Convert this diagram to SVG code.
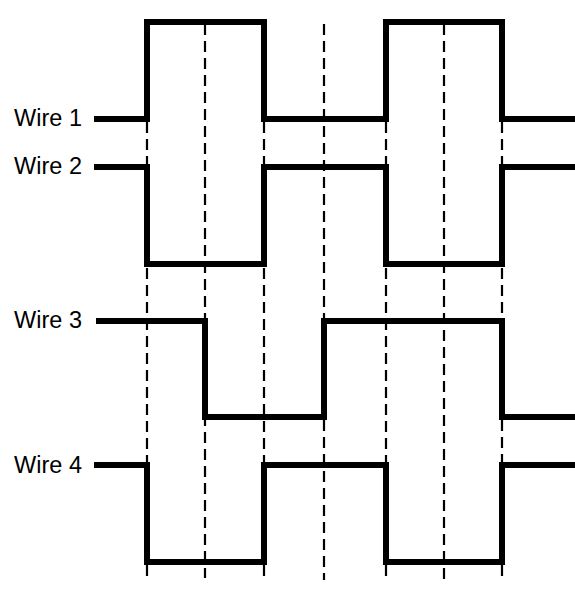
<svg xmlns="http://www.w3.org/2000/svg" width="575" height="597" viewBox="0 0 575 597">
<style>
.lbl{font-family:"Liberation Sans",Arial,sans-serif;font-size:23.5px;fill:#000}
.wire{fill:none;stroke:#000;stroke-width:6;stroke-linejoin:miter}
.dash{fill:none;stroke:#000;stroke-width:2.2;stroke-dasharray:11 6}
</style>
<rect width="575" height="597" fill="#fff"/>
<g id="connectors">
<path class="dash" d="M147 122V166M147 268V462M147 565V578"/>
<path class="dash" d="M205 24V578"/>
<path class="dash" d="M264 122V166M264 268V462M264 565V578"/>
<path class="dash" d="M324 24V320M324 420V580"/>
<path class="dash" d="M386 122V166M386 268V462M386 565V578"/>
<path class="dash" d="M444 24V583"/>
<path class="dash" d="M502 122V166M502 268V320M502 420V462M502 565V578"/>
</g>
<g id="wire1">
<text class="lbl" x="82" y="126" text-anchor="end">Wire 1</text>
<path class="wire" d="M94 119H147V22H264V119H386V22H502V119H575"/>
</g>
<g id="wire2">
<text class="lbl" x="82" y="174" text-anchor="end">Wire 2</text>
<path class="wire" d="M94 167H147V264H264V167H386V264H502V167H575"/>
</g>
<g id="wire3">
<text class="lbl" x="82" y="328" text-anchor="end">Wire 3</text>
<path class="wire" d="M96 321H205V417H324V321H502V417H575"/>
</g>
<g id="wire4">
<text class="lbl" x="82" y="473" text-anchor="end">Wire 4</text>
<path class="wire" d="M94 465H147V562H264V465H386V562H502V465H575"/>
</g>
</svg>
